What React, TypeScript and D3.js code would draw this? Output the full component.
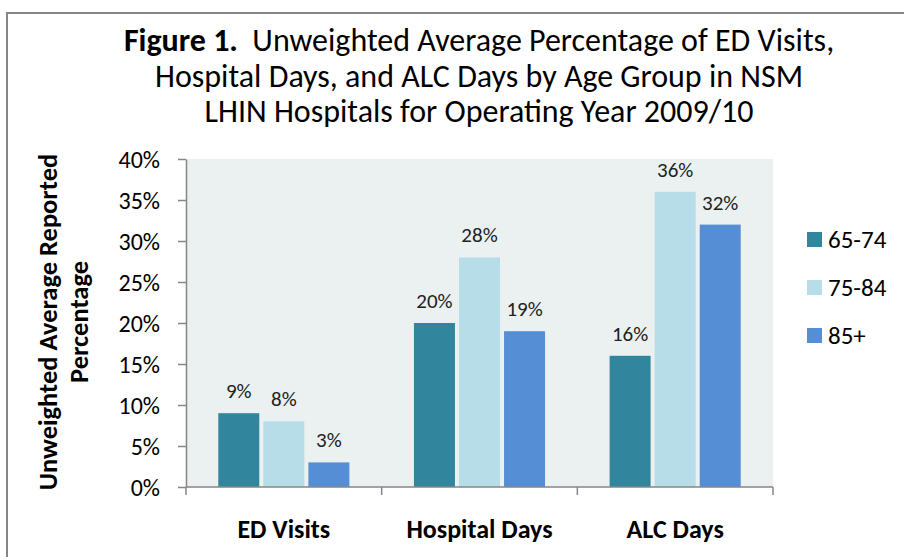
import React, { useEffect, useRef } from "react";
import * as d3 from "d3";

const categories = ["ED Visits", "Hospital Days", "ALC Days"];
const ageGroups = ["65-74", "75-84", "85+"];
const values65to74 = [9, 20, 16];
const values75to84 = [8, 28, 36];
const values85plus = [3, 19, 32];
const yTicks = [0, 5, 10, 15, 20, 25, 30, 35, 40];
const colors = ["#31859C", "#B7DEE8", "#558ED5"];
const titleLines = [
    "Unweighted Average Percentage of ED Visits,",
    "Hospital Days, and ALC Days by Age Group in NSM",
    "LHIN Hospitals for Operating Year 2009/10",
];

const FONT = "Carlito, Calibri, 'Open Sans', sans-serif";

const App = () => {
    const svgRef = useRef<SVGSVGElement>(null);

    useEffect(() => {
        const width = 904, height = 557;
        const margin = { top: 159, left: 186, right: 131, bottom: 70 };
        const plotW = width - margin.left - margin.right;
        const plotH = height - margin.top - margin.bottom;

        const svg = d3.select(svgRef.current);
        svg.selectAll("*").remove();

        const rows = categories.map((c, i) => ({
            category: c,
            values: [values65to74[i], values75to84[i], values85plus[i]],
        }));

        // outer frame
        svg.append("rect")
            .attr("x", 7).attr("y", 13)
            .attr("width", width + 20).attr("height", height + 20)
            .attr("fill", "#fff")
            .attr("stroke", "#868686")
            .attr("stroke-width", 2);

        // title
        const title = svg.append("text")
            .attr("font-family", FONT)
            .attr("font-size", 32)
            .attr("fill", "#000")
            .attr("text-anchor", "middle");
        titleLines.forEach((line, i) => {
            const t = title.append("tspan")
                .attr("x", 479)
                .attr("y", 51 + i * 35.5);
            if (i === 0) {
                t.append("tspan").attr("font-weight", "bold").text("Figure 1.");
                t.append("tspan").text("\u00a0 " + line);
            } else {
                t.text(line);
            }
        });

        const g = svg.append("g")
            .attr("transform", `translate(${margin.left},${margin.top})`);

        const x0 = d3.scaleBand()
            .domain(categories)
            .range([0, plotW]);

        const groupW = x0.bandwidth() * 0.67;
        const x1 = d3.scaleBand()
            .domain(ageGroups)
            .range([0, groupW])
            .paddingInner(0.09);

        const y = d3.scaleLinear()
            .domain([0, 40])
            .range([plotH, 0]);

        // plot background
        g.append("rect")
            .attr("width", plotW)
            .attr("height", plotH)
            .attr("fill", "#EBF1F1");

        // bars
        const grp = g.selectAll(".grp")
            .data(rows)
            .enter()
            .append("g")
            .attr("transform", d => `translate(${x0(d.category)! + (x0.bandwidth() - groupW) / 2},0)`);

        grp.selectAll("rect")
            .data(d => d.values.map((v, i) => ({ key: ageGroups[i], v, i })))
            .enter()
            .append("rect")
            .attr("x", d => x1(d.key)!)
            .attr("y", d => y(d.v))
            .attr("width", x1.bandwidth())
            .attr("height", d => plotH - y(d.v))
            .attr("fill", d => colors[d.i]);

        grp.selectAll("text")
            .data(d => d.values.map((v, i) => ({ key: ageGroups[i], v })))
            .enter()
            .append("text")
            .attr("x", d => x1(d.key)! + x1.bandwidth() / 2)
            .attr("y", d => y(d.v) - 15)
            .attr("text-anchor", "middle")
            .attr("font-family", FONT)
            .attr("font-size", 21)
            .attr("fill", "#222")
            .text(d => d.v + "%");

        // y axis
        const yAxis = g.append("g")
            .call(d3.axisLeft(y).tickValues(yTicks).tickSize(8).tickSizeOuter(0).tickFormat(d => d + "%"));
        yAxis.select(".domain").attr("stroke", "#868686").attr("stroke-width", 1.5);
        yAxis.selectAll(".tick line").attr("stroke", "#868686").attr("stroke-width", 1.5);
        yAxis.selectAll(".tick text")
            .attr("x", -26)
            .attr("dy", "0.34em")
            .attr("font-family", FONT)
            .attr("font-size", 24)
            .attr("fill", "#000");

        // x axis
        const xAxis = g.append("g")
            .attr("transform", `translate(0,${plotH})`);
        xAxis.append("line")
            .attr("x1", 0).attr("x2", plotW)
            .attr("stroke", "#868686").attr("stroke-width", 1.5);
        const xEdges = [...categories.map(c => x0(c)!), plotW];
        xAxis.selectAll(".xtick")
            .data(xEdges)
            .enter()
            .append("line")
            .attr("x1", d => d).attr("x2", d => d)
            .attr("y1", 0).attr("y2", 8)
            .attr("stroke", "#868686").attr("stroke-width", 1.5);
        xAxis.selectAll(".xlabel")
            .data(categories)
            .enter()
            .append("text")
            .attr("x", d => x0(d)! + x0.bandwidth() / 2)
            .attr("y", 51)
            .attr("text-anchor", "middle")
            .attr("font-family", FONT)
            .attr("font-weight", "bold")
            .attr("font-size", 26)
            .attr("fill", "#000")
            .text(d => d);

        // y title
        const yTitle = svg.append("text")
            .attr("transform", "translate(0,322) rotate(-90)")
            .attr("text-anchor", "middle")
            .attr("font-family", FONT)
            .attr("font-weight", "bold")
            .attr("font-size", 26.5)
            .attr("fill", "#000");
        yTitle.append("tspan").attr("x", 0).attr("y", 57).text("Unweighted Average Reported");
        yTitle.append("tspan").attr("x", 0).attr("y", 88).text("Percentage");

        // legend
        const legend = svg.append("g")
            .selectAll("g")
            .data(ageGroups)
            .enter()
            .append("g")
            .attr("transform", (d, i) => `translate(807,${239.5 + i * 48})`);
        legend.append("rect")
            .attr("x", 0).attr("y", -7.5)
            .attr("width", 15).attr("height", 15)
            .attr("fill", (d, i) => colors[i]);
        legend.append("text")
            .attr("x", 21)
            .attr("y", 0)
            .attr("dy", "0.34em")
            .attr("font-family", FONT)
            .attr("font-size", 25)
            .attr("fill", "#000")
            .text(d => d);
    }, []);

    return (
        <svg ref={svgRef} width={904} height={557}
            style={{ position: "absolute", left: 0, top: 0, display: "block" }} />
    );
};

export default App;
